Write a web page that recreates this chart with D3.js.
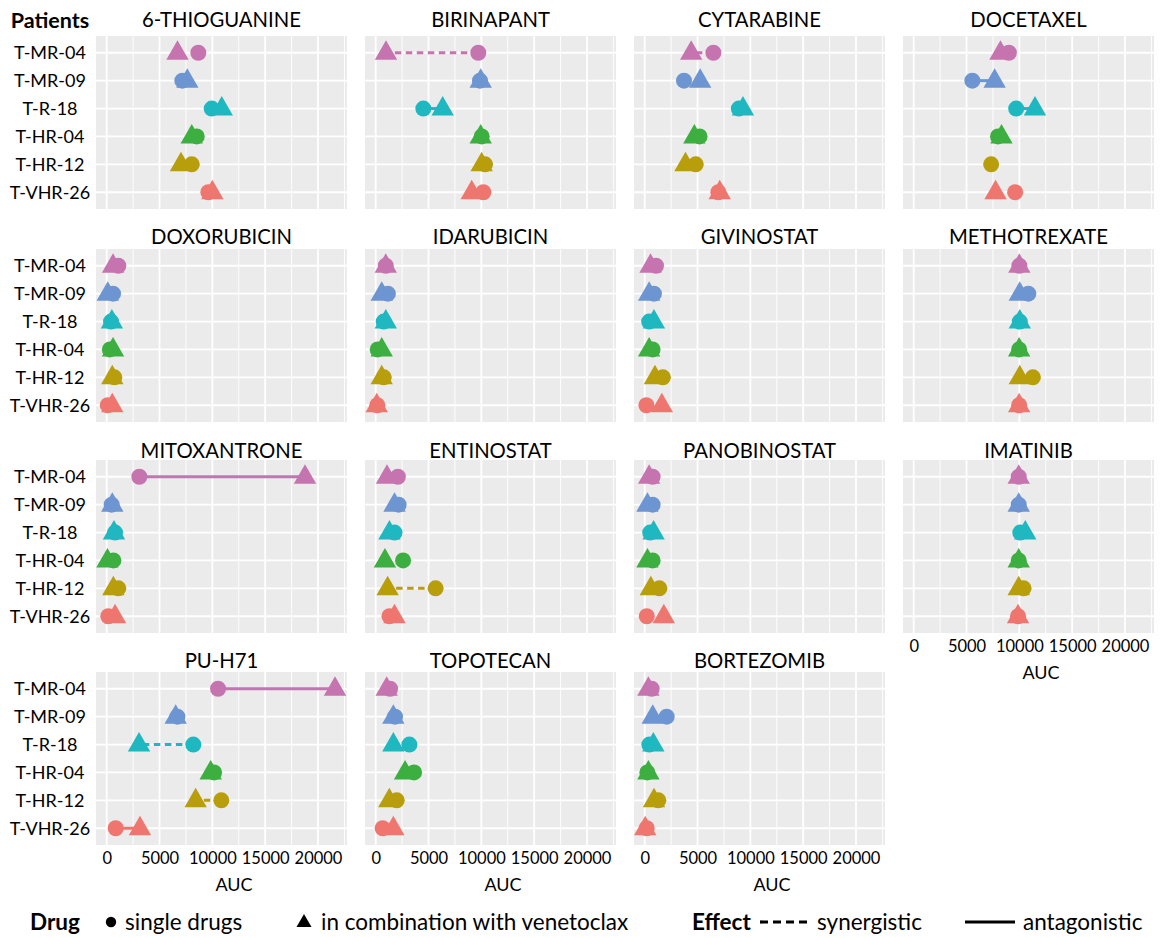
<!DOCTYPE html>
<html>
<head>
<meta charset="utf-8">
<script src="https://cdn.jsdelivr.net/npm/d3@7"></script>
<style>
  body { margin: 0; background: #ffffff; }
  svg text { font-family: Lato, "Noto Sans", sans-serif; fill: #000; }
</style>
</head>
<body>
<svg id="chart" width="1164" height="938"></svg>
<script>
// ---- data -------------------------------------------------------------
const drugs = [
  "6-THIOGUANINE", "BIRINAPANT", "CYTARABINE", "DOCETAXEL",
  "DOXORUBICIN", "IDARUBICIN", "GIVINOSTAT", "METHOTREXATE",
  "MITOXANTRONE", "ENTINOSTAT", "PANOBINOSTAT", "IMATINIB",
  "PU-H71", "TOPOTECAN", "BORTEZOMIB"
];
const patients = ["T-MR-04", "T-MR-09", "T-R-18", "T-HR-04", "T-HR-12", "T-VHR-26"];
const patientColors = ["#c674b0", "#6d95d1", "#1fb8c0", "#3caf40", "#b89e0b", "#ef766f"];

// AUC of each drug given alone (one row per drug, columns follow `patients`)
const singleAUC = [
  [8670, 7160, 9940, 8520, 8050, 9620],
  [9710, 9870, 4510, 10030, 10350, 10190],
  [6500, 3720, 8910, 5190, 4830, 6970],
  [9010, 5550, 9700, 7980, 7330, 9600],
  [1100, 600, 410, 300, 720, 100],
  [950, 1150, 760, 190, 760, 150],
  [1070, 875, 420, 745, 1720, 160],
  [10000, 10850, 10040, 9980, 11280, 9980],
  [3090, 470, 790, 630, 1100, 150],
  [2100, 2170, 1780, 2590, 5670, 1300],
  [750, 750, 520, 750, 1390, 195],
  [9940, 9940, 10090, 9940, 10400, 9875],
  [10540, 6690, 8200, 10160, 10850, 850],
  [1360, 1830, 3190, 3630, 1990, 660],
  [660, 2080, 440, 250, 1290, 190]
];

// AUC of each drug in combination with venetoclax (null = not measured)
const comboAUC = [
  [6700, 7630, 10890, 8050, 7030, 10000],
  [975, 9940, 6340, 9940, 10030, 9090],
  [4400, 5250, 9300, 4700, 3860, 7100],
  [8210, 7660, 11480, 8310, null, 7750],
  [600, 100, 490, 600, 530, 530],
  [950, 570, 955, 570, 570, 100],
  [550, 420, 875, 420, 970, 1620],
  [10000, 10040, 10040, 9980, 10040, 9980],
  [18770, 530, 690, 70, 630, 790],
  [1070, 1780, 1300, 875, 1130, 1780],
  [420, 260, 840, 260, 580, 1810],
  [9940, 9940, 10560, 9940, 9940, 9875],
  [21610, 6530, 3060, 9840, 8420, 3150],
  [1040, 1670, 1670, 2780, 1290, 1670],
  [350, 760, 820, 350, 880, 50]
];

// significant interaction: "syn" = synergistic, "ant" = antagonistic
const effect = [
  [null, null, null, null, null, null],
  ["syn", null, "ant", null, null, null],
  ["syn", null, null, null, null, null],
  [null, "ant", "ant", null, null, null],
  [null, null, null, null, null, null],
  [null, null, null, null, null, null],
  [null, null, null, null, null, null],
  [null, null, null, null, null, null],
  ["ant", null, null, null, null, null],
  [null, null, null, null, "syn", null],
  [null, null, null, null, null, null],
  [null, null, null, null, null, null],
  ["ant", null, "syn", null, "syn", "ant"],
  [null, null, null, null, null, null],
  [null, null, null, null, null, null]
];

const xTicks = [0, 5000, 10000, 15000, 20000];
const xMinorTicks = [2500, 7500, 12500, 17500, 22500];
const xDomain = [-1013, 22745];

// ---- layout -----------------------------------------------------------
const nCols = 4;
const panelW = 251, panelH = 173;
const colLeft = c => 96 + 269 * c;
const rowTop = [36, 249, 460, 672];
const stripBaseline = [27, 244, 458, 668];
const nPanels = drugs.length;

const svg = d3.select("#chart");

const x = d3.scaleLinear().domain(xDomain).range([0, panelW]);
const y = d3.scalePoint().domain(patients).range([0, panelH]).padding(0.6);
const color = d3.scaleOrdinal().domain(patients).range(patientColors);

// triangle centred on its circumcentre (like R's filled triangle symbol)
const triPath = "M0,-12.5L11.2,7L-11.2,7Z";
const circleR = 8;

drugs.forEach((drug, i) => {
  const col = i % nCols, row = Math.floor(i / nCols);
  const g = svg.append("g").attr("transform", `translate(${colLeft(col)},${rowTop[row]})`);

  // panel background + grid
  g.append("rect").attr("width", panelW).attr("height", panelH).attr("fill", "#ebebeb");
  g.selectAll(".minor").data(xMinorTicks.filter(v => v >= xDomain[0] && v <= xDomain[1]))
    .join("line").attr("x1", d => x(d)).attr("x2", d => x(d))
    .attr("y1", 0).attr("y2", panelH).attr("stroke", "#fff").attr("stroke-width", 0.9);
  g.selectAll(".major").data(xTicks)
    .join("line").attr("x1", d => x(d)).attr("x2", d => x(d))
    .attr("y1", 0).attr("y2", panelH).attr("stroke", "#fff").attr("stroke-width", 1.8);
  g.selectAll(".hgrid").data(patients)
    .join("line").attr("x1", 0).attr("x2", panelW)
    .attr("y1", d => y(d)).attr("y2", d => y(d)).attr("stroke", "#fff").attr("stroke-width", 1.8);

  // strip title
  svg.append("text")
    .attr("x", colLeft(col) + panelW / 2).attr("y", stripBaseline[row])
    .attr("text-anchor", "middle").attr("font-size", 20.3)
    .text(drug);

  const rows = patients.map((p, k) => ({
    patient: p, single: singleAUC[i][k], combo: comboAUC[i][k], effect: effect[i][k]
  }));

  // interaction segments
  g.selectAll(".seg").data(rows.filter(r => r.effect && r.combo != null))
    .join("line")
    .attr("x1", d => x(d.single)).attr("x2", d => x(d.combo))
    .attr("y1", d => y(d.patient)).attr("y2", d => y(d.patient))
    .attr("stroke", d => color(d.patient)).attr("stroke-width", 3)
    .attr("stroke-dasharray", d => d.effect === "syn" ? "6.5,4.5" : null);

  // single drug (circle)
  g.selectAll(".single").data(rows.filter(r => r.single != null))
    .join("circle")
    .attr("cx", d => x(d.single)).attr("cy", d => y(d.patient)).attr("r", circleR)
    .attr("fill", d => color(d.patient));

  // combination with venetoclax (triangle)
  g.selectAll(".combo").data(rows.filter(r => r.combo != null))
    .join("path")
    .attr("d", triPath)
    .attr("transform", d => `translate(${x(d.combo)},${y(d.patient)})`)
    .attr("fill", d => color(d.patient));

  // y axis labels on the first column
  if (col === 0) {
    const ya = g.append("g").call(d3.axisLeft(y).tickSize(0));
    ya.select(".domain").remove();
    ya.selectAll("text")
      .attr("text-anchor", "middle").attr("x", 50 - colLeft(0))
      .attr("font-size", 18).attr("fill", "#000")
      .style("font-family", "Lato, sans-serif");
  }

  // x axis where no panel sits below
  const hasBelow = i + nCols < nPanels;
  if (!hasBelow) {
    const xa = g.append("g").attr("transform", `translate(0,${panelH})`)
      .call(d3.axisBottom(x).tickValues(xTicks).tickSize(0).tickPadding(7).tickFormat(d3.format("d")));
    xa.select(".domain").remove();
    xa.selectAll("text").attr("font-size", 16.5).attr("fill", "#000")
      .style("font-family", "Lato, sans-serif");
    g.append("text")
      .attr("x", panelW / 2 + 12.5).attr("y", panelH + 46)
      .attr("text-anchor", "middle").attr("font-size", 18)
      .text("AUC");
  }
});

// y axis title
svg.append("text").attr("x", 50).attr("y", 28).attr("text-anchor", "middle")
  .attr("font-size", 21.5).attr("font-weight", "bold").text("Patients");

// ---- legend -----------------------------------------------------------
const lg = svg.append("g").attr("transform", "translate(0,922)");
const fs = 22.5;
lg.append("text").attr("x", 30).attr("y", 7.5).attr("font-size", fs).attr("font-weight", "bold").text("Drug");
lg.append("circle").attr("cx", 111).attr("cy", 0).attr("r", 5.2).attr("fill", "#000");
lg.append("text").attr("x", 125).attr("y", 7.5).attr("font-size", fs).text("single drugs");
lg.append("path").attr("d", "M0,-8L7.5,5L-7.5,5Z").attr("transform", "translate(304,0)").attr("fill", "#000");
lg.append("text").attr("x", 321).attr("y", 7.5).attr("font-size", fs).text("in combination with venetoclax");
lg.append("text").attr("x", 692).attr("y", 7.5).attr("font-size", fs).attr("font-weight", "bold").text("Effect");
lg.append("line").attr("x1", 760).attr("x2", 811).attr("y1", 0).attr("y2", 0)
  .attr("stroke", "#000").attr("stroke-width", 3.2).attr("stroke-dasharray", "8,5");
lg.append("text").attr("x", 817).attr("y", 7.5).attr("font-size", fs).text("synergistic");
lg.append("line").attr("x1", 965).attr("x2", 1015).attr("y1", 0).attr("y2", 0)
  .attr("stroke", "#000").attr("stroke-width", 3.2);
lg.append("text").attr("x", 1023).attr("y", 7.5).attr("font-size", fs).text("antagonistic");
</script>
</body>
</html>
